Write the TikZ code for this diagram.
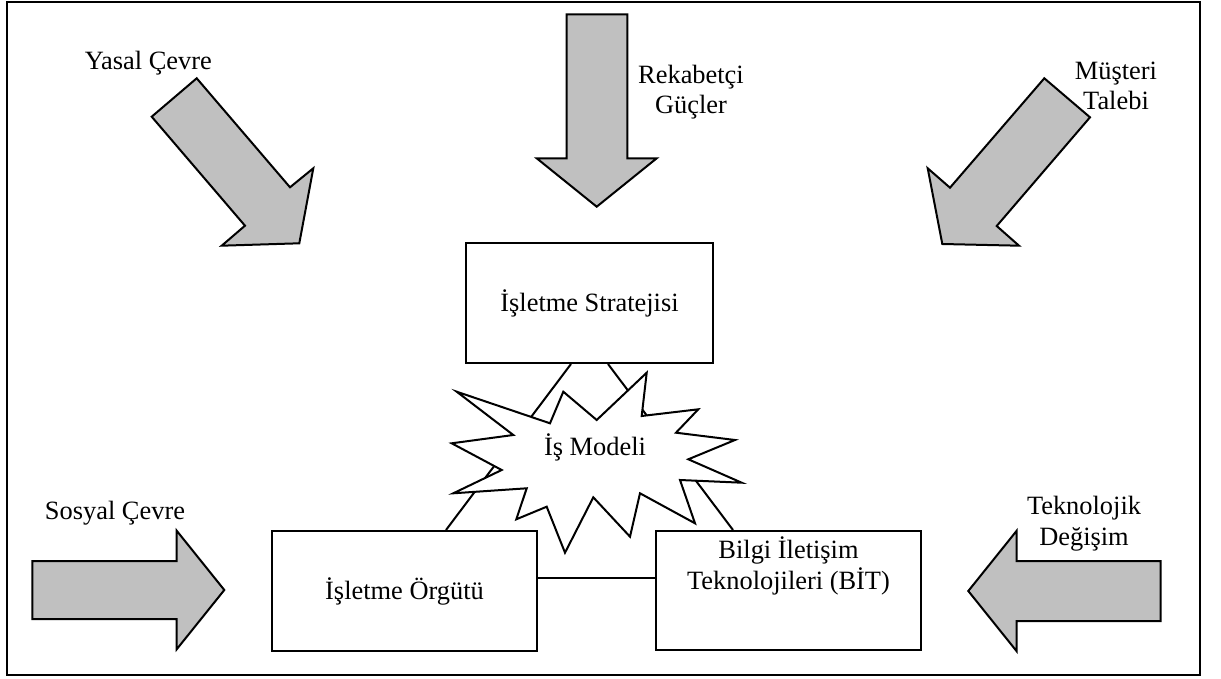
\documentclass[tikz,border=0pt]{standalone}
\usepackage{fontspec}
\setmainfont{Liberation Serif}
\usetikzlibrary{calc}
\definecolor{arrowgray}{RGB}{192,192,192}
\tikzset{
  box/.style={draw, line width=1pt, inner sep=0pt},
  bigarrow/.style={draw, line width=1pt, fill=arrowgray, line join=miter},
  link/.style={line width=1pt}
}

\begin{document}
\begin{tikzpicture}[x=0.5pt,y=-0.5pt,font=\fontsize{13.2}{15.3}\selectfont]
  \useasboundingbox (0,0) rectangle (1221,679);
  \draw[line width=1pt] (7,2) rectangle (1200,675);

  \draw[bigarrow] (196.7,78.3) -- (290,187.3) -- (313.3,168.3) -- (299.3,243.3)
    -- (221.7,245.7) -- (245,225.7) -- (151.7,116.7) -- cycle;
  \draw[bigarrow] (566.7,14.3) -- (627.3,14.3) -- (627.3,158.3) -- (656.7,158.3)
    -- (596.7,206.7) -- (536.7,158.3) -- (566.7,158.3) -- cycle;
  \draw[bigarrow] (1044.3,78.3) -- (1090,117.3) -- (996.7,226) -- (1019,245.7)
    -- (942.3,244) -- (927.7,168.3) -- (950,187.7) -- cycle;
  \draw[bigarrow] (32.3,561) -- (176.7,561) -- (176.7,530.7) -- (224.3,590)
    -- (176.7,649.3) -- (176.7,619) -- (32.3,619) -- cycle;
  \draw[bigarrow] (1160.7,561) -- (1016.7,561) -- (1016.7,530.7) -- (968.3,591)
    -- (1016.7,651.3) -- (1016.7,621) -- (1160.7,621) -- cycle;

  \node[anchor=base] (yasal) at (148.3,70) {Yasal Çevre};
  \node[anchor=base, align=center] (rekabet) at (691,114) {Rekabetçi\\Güçler};
  \node[anchor=base, align=center] (musteri) at (1116,110) {Müşteri\\Talebi};
  \node[anchor=base] (sosyal) at (115,519) {Sosyal Çevre};
  \node[anchor=base, align=center] (teknoloji) at (1084,545) {Teknolojik\\Değişim};

  \node[box, minimum width=123.5pt, minimum height=60pt] (strateji) at (589.5,303) {İşletme Stratejisi};
  \node[box, minimum width=132.5pt, minimum height=60pt] (orgut) at (404.5,591) {İşletme Örgütü};
  \node[box, minimum width=132.5pt, minimum height=59.5pt] (bit) at (788.5,590.5) {};
  \node[anchor=base, align=center] (bittext) at (788.5,589) {Bilgi İletişim\\Teknolojileri (BİT)};

  \draw[link] ($(strateji.south)+(-18.5,0)$) -- ($(orgut.north)+(41.5,0)$);
  \draw[link] ($(strateji.south)+(18.5,0)$) -- ($(bit.north)+(-55.5,0)$);
  \draw[link] ($(orgut.east)+(0,-13)$) -- ($(bit.west)+(0,-12.5)$);

  \draw[link, fill=white, line join=miter] (456.7,391.7) -- (550,423.3) -- (563.3,391.7)
    -- (596.7,420) -- (646.7,372.7) -- (641.7,416) -- (698.3,409.3) -- (676,432.7)
    -- (735,440) -- (688.3,459.3) -- (741.7,482.7) -- (680,480) -- (695,523.3)
    -- (640,493.3) -- (630,536.7) -- (593.3,497.3) -- (565,552.7) -- (546.7,506.7)
    -- (516.3,519.3) -- (526.7,488.3) -- (453.3,493.3) -- (501.7,470) -- (451.7,443.3)
    -- (513.3,435) -- cycle;
  \node[anchor=base] (model) at (595,455) {İş Modeli};
\end{tikzpicture}
\end{document}
